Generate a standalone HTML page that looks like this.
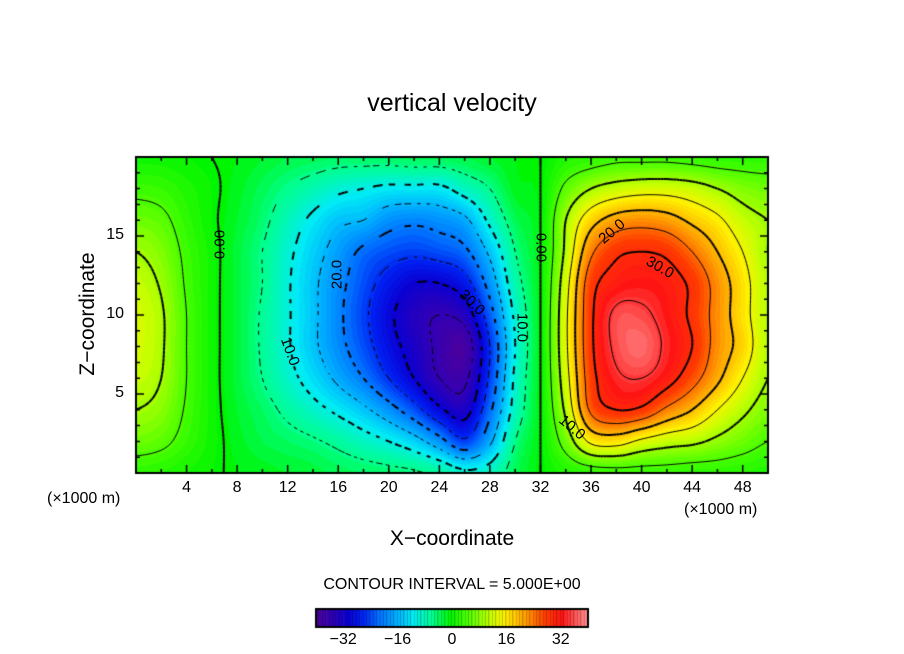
<!DOCTYPE html>
<html><head><meta charset="utf-8">
<style>
html,body{margin:0;padding:0;background:#fff;}
#wrap{position:relative;width:904px;height:654px;overflow:hidden;font-family:"Liberation Sans",sans-serif;color:#000;}
.t{position:absolute;white-space:nowrap;}
canvas{position:absolute;left:0;top:0;}
</style></head>
<body>
<div id="wrap">
<canvas id="cv" width="904" height="654"></canvas>
<div class="t" style="left:0;width:904px;top:89px;text-align:center;font-size:25px;">vertical velocity</div>
<div class="t" style="left:0;width:904px;top:527px;text-align:center;font-size:21px;">X−coordinate</div>
<div class="t" style="left:-12px;top:302px;width:200px;text-align:center;font-size:21px;transform:rotate(-90deg);transform-origin:100px 12px;">Z−coordinate</div>
<div class="t" style="left:47px;top:490px;font-size:16px;">(×1000 m)</div>
<div class="t" style="left:684px;top:501px;font-size:16px;">(×1000 m)</div>
<div class="t" style="left:0;width:904px;top:576px;text-align:center;font-size:16px;">CONTOUR INTERVAL = 5.000E+00</div>
<div id="labels"></div>
</div>
<script>
// grid: x = 0..50 step 2 (km), z = 0..20 step 2 (km)
const xs = [0,2,4,6,8,10,12,14,16,18,20,22,24,26,28,30,32,34,36,38,40,42,44,46,48,50];
const zs = [0,2,4,6,8,10,12,14,16,18,20];
const w0  = [3,2.5,1.5,0.5,-0.5,-1,-1.5,-2,-3,-3.5,-4,-4.5,-6,-9,-8,-3,0,2,3,3.5,3.5,3.5,3,3,2.5,2];
const w2  = [7,6,3.5,1,-1,-2.5,-3.5,-4.5,-6,-8,-10,-13,-18,-24,-16,-5,0,7,16,17,14,12,11,9,7,5];
const w4  = [10,8.5,4.5,1,-1.5,-3.5,-6,-8.5,-11,-14,-18,-23,-29,-32,-21,-8,0,11,26,30,29,24,20,15,11,8];
const w6  = [12,10,5,1,-2,-5,-8.5,-12,-16,-20,-25,-30,-35,-36,-24,-9,0,13,28,34,35,32,27,21,15,10];
const w8  = [13,10.5,5,1,-2,-5.5,-9.5,-14,-18.5,-23,-28,-32,-36,-38,-25,-10,0,14,29,36,38,34,30,23,18,11];
const w10 = [13,10.5,5,1,-2,-5.5,-9.5,-14,-19,-24,-29,-33,-35,-33,-22,-9,0,14,29,36,36,33,29,23,17,11];
const w12 = [12,9.5,4.5,1,-2,-5,-9.5,-14,-18.5,-23,-27,-30,-30,-27,-18,-7,0,13,28,32,33,32,29,23,17,11];
const w14 = [10,8,4,1,-2,-5,-9,-13,-17,-21,-23,-24,-23,-21,-14,-5,0,11,24,29,30,29,25,20,15,10];
const w16 = [7,6,3,0.5,-1.5,-4,-7.5,-11,-14,-15,-18,-19,-18,-16,-9,-3,0,10,18,22,23,22,19,16,12,10];
const w18 = [4,3.5,2,0.5,-1,-3,-5,-7,-9,-10,-11,-11,-11,-8,-5,-1,0,6,10,12,13,13,12,10,8,7];
const w20 = [1,1,0.5,0,-0.5,-1.5,-2.5,-3,-3.5,-3.5,-3.5,-3,-3,-2.5,-1.5,-0.5,0,2,3,4,4,4,3.5,3,3,3];
const field = [w0,w2,w4,w6,w8,w10,w12,w14,w16,w18,w20];
const xTicks = [4,8,12,16,20,24,28,32,36,40,44,48];
const zTicks = [5,10,15];
const cbTicks = [-32,-16,0,16,32];

const PL=136, PR=768, PT=157, PB=473;
const X0=0, X1=50, Z0=0, Z1=20;
function sx(x){return PL+(x-X0)/(X1-X0)*(PR-PL);}
function sz(z){return PB-(z-Z0)/(Z1-Z0)*(PB-PT);}

function cr(p0,p1,p2,p3,t){return p1+0.5*t*(p2-p0+t*(2*p0-5*p1+4*p2-p3+t*(3*(p1-p2)+p3-p0)));}
function g(i,j){i=Math.max(0,Math.min(zs.length-1,i));j=Math.max(0,Math.min(xs.length-1,j));return field[i][j];}
function sample(x,z){
  const dx=xs[1]-xs[0], dz=zs[1]-zs[0];
  let fx=(x-xs[0])/dx, fz=(z-zs[0])/dz;
  fx=Math.max(0,Math.min(xs.length-1.0001,fx)); fz=Math.max(0,Math.min(zs.length-1.0001,fz));
  const j=Math.floor(fx), i=Math.floor(fz), tx=fx-j, tz=fz-i;
  const r=[];
  for(let k=-1;k<=2;k++) r.push(cr(g(i+k,j-1),g(i+k,j),g(i+k,j+1),g(i+k,j+2),tx));
  return cr(r[0],r[1],r[2],r[3],tz);
}
const stops=[[-40,80,0,150],[-35,50,0,180],[-30,10,0,210],[-26,0,30,240],[-21,0,110,255],[-16,0,170,255],[-11,0,235,245],[-5,0,255,140],[0,0,245,0],[6,90,255,0],[12,200,255,0],[16,255,240,0],[22,255,160,0],[28,255,60,0],[33,255,20,20],[37,255,90,90],[41,255,150,150]];
function col(v){
  v=Math.round(v);
  if(v<=stops[0][0])return stops[0].slice(1);
  for(let k=1;k<stops.length;k++){if(v<=stops[k][0]){const a=stops[k-1],b=stops[k],t=(v-a[0])/(b[0]-a[0]);return [0,1,2].map(m=>Math.round(a[m+1]+t*(b[m+1]-a[m+1])));}}
  return stops[stops.length-1].slice(1);
}
const cv=document.getElementById('cv'),ctx=cv.getContext('2d');
const W=PR-PL, H=PB-PT, img=ctx.createImageData(W,H);
for(let py=0;py<H;py++){const z=Z1-(py+0.5)/H*(Z1-Z0);
 for(let px=0;px<W;px++){const x=X0+(px+0.5)/W*(X1-X0);const c=col(sample(x,z));const o=(py*W+px)*4;img.data[o]=c[0];img.data[o+1]=c[1];img.data[o+2]=c[2];img.data[o+3]=255;}}
ctx.putImageData(img,PL,PT);
const NX=200, NZ=80, vals=[];
for(let i=0;i<=NZ;i++){vals.push([]);for(let j=0;j<=NX;j++)vals[i].push(sample(X0+j/NX*(X1-X0),Z0+i/NZ*(Z1-Z0)));}
function P(j,i){return [sx(X0+j/NX*(X1-X0)),sz(Z0+i/NZ*(Z1-Z0))];}
ctx.strokeStyle='#000';
for(let lev=-35;lev<=35;lev+=5){
  ctx.lineWidth=(lev%10===0)?2:1;
  for(let i=0;i<NZ;i++)for(let j=0;j<NX;j++){
    const c=[[j,i,vals[i][j]],[j+1,i,vals[i][j+1]],[j+1,i+1,vals[i+1][j+1]],[j,i+1,vals[i+1][j]]];
    const pts=[];
    for(let k=0;k<4;k++){const a=c[k],b=c[(k+1)%4];
      if((a[2]<lev)!==(b[2]<lev)){const t=(lev-a[2])/(b[2]-a[2]);const pa=P(a[0],a[1]),pb=P(b[0],b[1]);pts.push([pa[0]+t*(pb[0]-pa[0]),pa[1]+t*(pb[1]-pa[1])]);}}
    for(let k=0;k+1<pts.length;k+=2){
      const mx=(pts[k][0]+pts[k+1][0])/2,my=(pts[k][1]+pts[k+1][1])/2;
      if(lev<0 && Math.floor((mx+my)/(lev%10===0?7:5))%2===1)continue;
      ctx.beginPath();ctx.moveTo(pts[k][0],pts[k][1]);ctx.lineTo(pts[k+1][0],pts[k+1][1]);ctx.stroke();}
  }
}
ctx.lineWidth=2;ctx.strokeRect(PL,PT,PR-PL,PB-PT);
ctx.lineWidth=1.5;
for(let x=2;x<50;x+=2){const L=(x%4===0)?8:4,X=sx(x);ctx.beginPath();ctx.moveTo(X,PB);ctx.lineTo(X,PB-L);ctx.moveTo(X,PT);ctx.lineTo(X,PT+L);ctx.stroke();}
for(let z=1;z<20;z++){const L=(z%5===0)?8:4,Y=sz(z);ctx.beginPath();ctx.moveTo(PL,Y);ctx.lineTo(PL+L,Y);ctx.moveTo(PR,Y);ctx.lineTo(PR-L,Y);ctx.stroke();}
const CL=316,CR=588,CT=609,CB=627,VMIN=-40,VMAX=40;
function cbx(v){return CL+(v-VMIN)/(VMAX-VMIN)*(CR-CL);}
for(let v=VMIN;v<VMAX;v++){const c=col(v+0.5);ctx.fillStyle='rgb('+c.join(',')+')';ctx.fillRect(cbx(v),CT,cbx(v+1)-cbx(v)+0.5,CB-CT);
 ctx.fillStyle='rgba(0,0,0,0.45)';ctx.fillRect(Math.round(cbx(v+1))-0.5,CT,1,CB-CT);}
ctx.lineWidth=2;ctx.strokeRect(CL,CT,CR-CL,CB-CT);
const lab=document.getElementById('labels');
function addT(name,txt,x,y,fs,extra){const d=document.createElement('div');d.className='t';
 
 
 d.textContent=txt;d.style.cssText+='left:'+(x-60)+'px;width:120px;text-align:center;top:'+(y-fs*0.6)+'px;font-size:'+fs+'px;'+(extra||'');lab.appendChild(d);}
xTicks.forEach(v=>addT('x-tick-label',String(v),sx(v),489,16));
zTicks.forEach(v=>{const d=document.createElement('div');d.className='t';
 
 
 d.textContent=String(v);d.style.cssText='left:60px;width:64px;text-align:right;top:'+(sz(v)-10)+'px;font-size:16px;';lab.appendChild(d);});
cbTicks.forEach(v=>addT('colorbar-tick-label',(v<0?'−':'')+Math.abs(v),cbx(v),641,16));
const cl=[['0.00',220,245,-90],['20.0',337,275,-90],['10.0',290,352,70],['30.0',472,303,45],['10.0',522,328,90],['0.00',541,248,90],['20.0',612,232,-40],['30.0',660,268,30],['10.0',572,428,40]];
cl.forEach(a=>addT('contour-label',a[0],a[1],a[2],15,'transform:rotate('+a[3]+'deg);'));
</script>
</body></html>
